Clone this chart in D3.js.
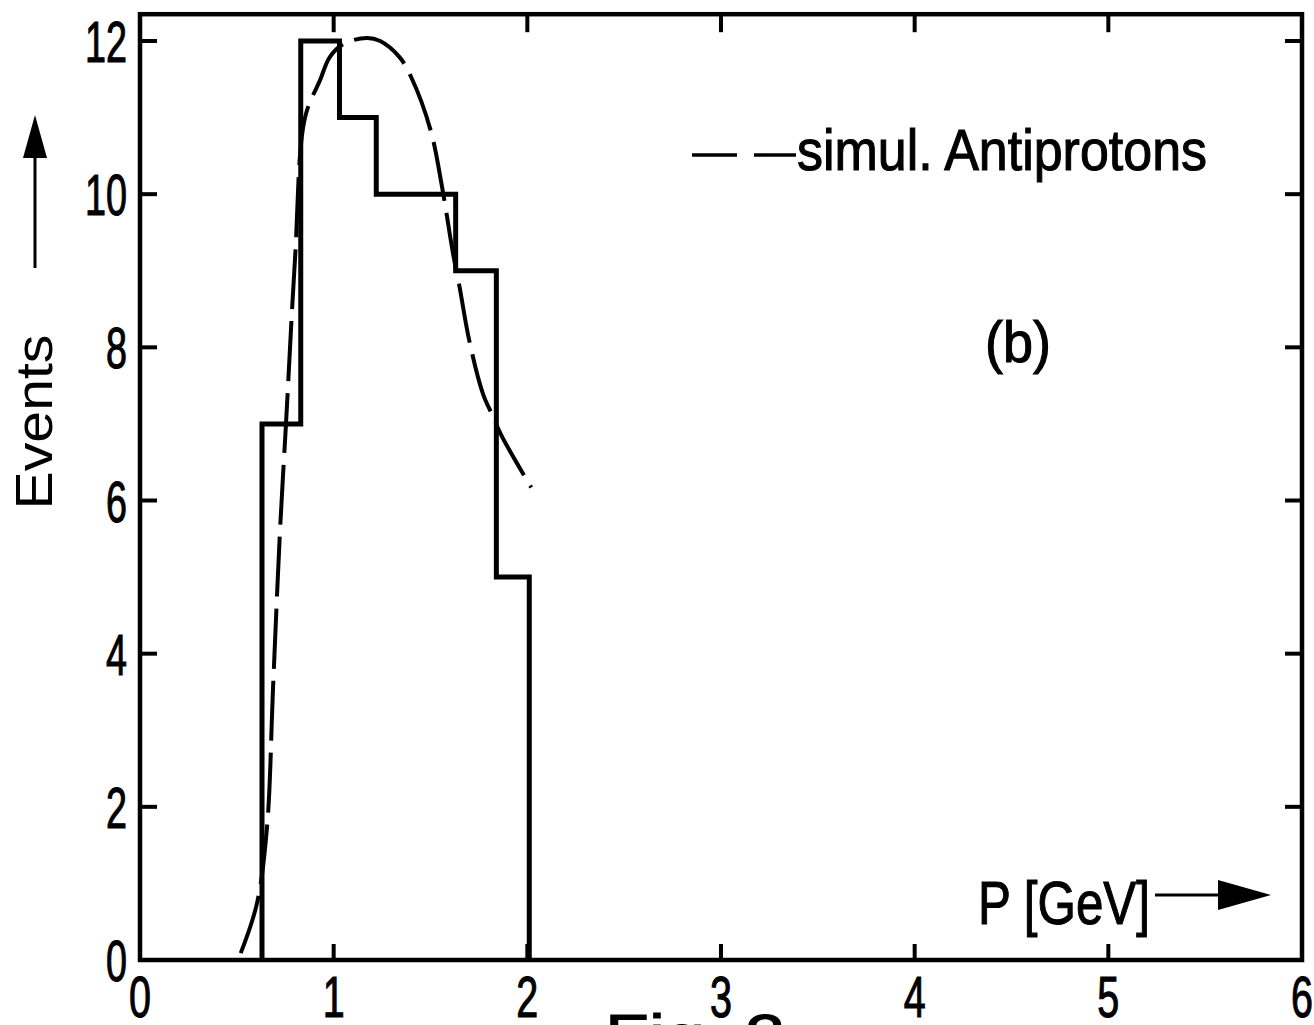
<!DOCTYPE html>
<html>
<head>
<meta charset="utf-8">
<script src="https://cdn.jsdelivr.net/npm/d3@7"></script>
<style>
  body { margin: 0; background: #fff; }
  svg text { font-family: "Liberation Sans", Arial, sans-serif; fill: #000; }
</style>
</head>
<body>
<div id="chart"></div>
<script>
//histogram bin edges (GeV) and event counts
var binEdges = [0.63, 0.83, 1.03, 1.22, 1.43, 1.63, 1.84, 2.01];
var binCounts = [7, 12, 11, 10, 10, 9, 5];

//simulated antiproton curve
var simP = [0.52, 0.604, 0.656, 0.687, 0.723, 0.754, 0.80, 0.852, 0.93, 0.98, 1.05, 1.17, 1.24, 1.34, 1.40, 1.50, 1.56, 1.616, 1.65, 1.70, 1.77, 1.82, 1.87, 2.02];
var simN = [0.09, 0.74, 1.74, 3.56, 5.61, 7.01, 9.14, 11.0, 11.49, 11.79, 11.96, 12.04, 12.0, 11.79, 11.53, 10.84, 10.09, 9.23, 8.79, 8.09, 7.40, 7.11, 6.83, 6.17];

//tick values
var xTicks = [0, 1, 2, 3, 4, 5, 6];
var yTicks = [0, 2, 4, 6, 8, 10, 12];
var yTop = 12.35; //top of frame

//size of the page
var W = 1314, H = 1025;

var svg = d3.select("#chart")
  .append("svg")
    .attr("width", W)
    .attr("height", H);

var x = d3.scaleLinear().domain([0, 6]).range([140, 1302]);
var y = d3.scaleLinear().domain([0, 12]).range([960, 41]);

//narrow lettering like the plotter font
function condText(str, px, py, size, len, anchor) {
  return svg.append("text")
    .attr("x", px)
    .attr("y", py)
    .attr("font-size", size)
    .attr("text-anchor", anchor || "start")
    .attr("textLength", len)
    .attr("lengthAdjust", "spacingAndGlyphs")
    .style("stroke", "#000")
    .style("stroke-width", 1.1)
    .text(str);
}

//frame
svg.append("rect")
  .attr("x", x(0))
  .attr("y", y(yTop))
  .attr("width", x(6) - x(0))
  .attr("height", y(0) - y(yTop))
  .attr("fill", "none")
  .attr("stroke", "#000")
  .attr("stroke-width", 4.5);

//inward ticks on all four sides
var inner = xTicks.slice(1, -1);
var innerY = yTicks.slice(1);
svg.selectAll(".xTickB").data(inner).enter().append("line")
  .attr("x1", d => x(d)).attr("x2", d => x(d))
  .attr("y1", y(0)).attr("y2", y(0) - 16)
  .attr("stroke", "#000").attr("stroke-width", 4);
svg.selectAll(".xTickT").data(inner).enter().append("line")
  .attr("x1", d => x(d)).attr("x2", d => x(d))
  .attr("y1", y(yTop)).attr("y2", y(yTop) + 18)
  .attr("stroke", "#000").attr("stroke-width", 4);
svg.selectAll(".yTickL").data(innerY).enter().append("line")
  .attr("x1", x(0)).attr("x2", x(0) + 17)
  .attr("y1", d => y(d)).attr("y2", d => y(d))
  .attr("stroke", "#000").attr("stroke-width", 4);
svg.selectAll(".yTickR").data(innerY).enter().append("line")
  .attr("x1", x(6)).attr("x2", x(6) - 17)
  .attr("y1", d => y(d)).attr("y2", d => y(d))
  .attr("stroke", "#000").attr("stroke-width", 4);

//tick labels
xTicks.forEach(function(d) {
  condText(String(d), x(d), 1017, 58, 22, "middle");
});
yTicks.forEach(function(d) {
  var s = String(d);
  condText(s, 127, y(d) + 21, 58, s.length * 21, "end");
});

//histogram
var histPts = [[binEdges[0], 0]];
binCounts.forEach(function(c, i) {
  histPts.push([binEdges[i], c]);
  histPts.push([binEdges[i + 1], c]);
});
histPts.push([binEdges[binEdges.length - 1], 0]);

svg.append("path")
  .datum(histPts)
  .attr("fill", "none")
  .attr("stroke", "#000")
  .attr("stroke-width", 5)
  .attr("stroke-linejoin", "miter")
  .attr("d", d3.line().x(d => x(d[0])).y(d => y(d[1])));

//simulated curve
var simData = simP.map((p, i) => ({p: p, n: simN[i]}));
svg.append("path")
  .datum(simData)
  .attr("fill", "none")
  .attr("stroke", "#000")
  .attr("stroke-width", 4)
  .attr("stroke-dasharray", "60,12")
  .attr("d", d3.line().curve(d3.curveCatmullRom)
    .x(d => x(d.p)).y(d => y(d.n)));

//legend
svg.append("line")
  .attr("x1", 692).attr("x2", 796)
  .attr("y1", 155).attr("y2", 155)
  .attr("stroke", "#000").attr("stroke-width", 3.5)
  .attr("stroke-dasharray", "45,17");
condText("simul. Antiprotons", 797, 170, 58, 410);

//panel label
condText("(b)", 985, 362, 58, 66);

//x axis title with arrow
condText("P [GeV]", 978, 924, 62, 172);
svg.append("line")
  .attr("x1", 1155).attr("x2", 1222)
  .attr("y1", 895).attr("y2", 895)
  .attr("stroke", "#000").attr("stroke-width", 3);
svg.append("path")
  .attr("d", "M1218,880 L1271,895 L1218,910 Z")
  .attr("fill", "#000");

//y axis title with arrow
svg.append("text")
  .attr("transform", "translate(52,422) rotate(-90)")
  .attr("text-anchor", "middle")
  .attr("font-size", 52)
  .attr("textLength", 175)
  .attr("lengthAdjust", "spacingAndGlyphs")
  .text("Events");
svg.append("line")
  .attr("x1", 35).attr("x2", 35)
  .attr("y1", 268).attr("y2", 150)
  .attr("stroke", "#000").attr("stroke-width", 3);
svg.append("path")
  .attr("d", "M23,158 L35,115 L47,158 Z")
  .attr("fill", "#000");

//caption, cut off by the page edge
condText("Fig. 2", 605, 1056, 60, 180);
</script>
</body>
</html>
